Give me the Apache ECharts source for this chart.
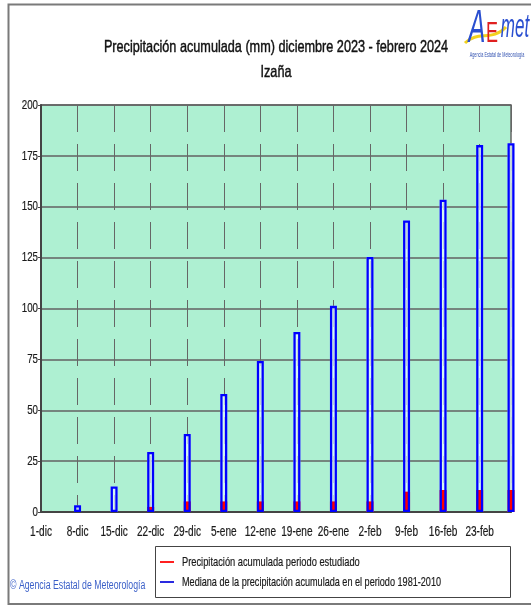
<!DOCTYPE html>
<html>
<head>
<meta charset="utf-8">
<script src="https://cdn.jsdelivr.net/npm/echarts@6/dist/echarts.min.js"></script>
<style>
html,body{margin:0;padding:0;background:#fff;}
#c{width:531px;height:606px;}
</style>
</head>
<body>
<div id="c"></div>
<script>
// ---- data ----
var startDate = '2023-12-01';
var tickLabels = ['1-dic','8-dic','15-dic','22-dic','29-dic','5-ene','12-ene','19-ene','26-ene','2-feb','9-feb','16-feb','23-feb'];
var barDates = ['2023-12-08','2023-12-15','2023-12-22','2023-12-29','2024-01-05','2024-01-12','2024-01-19','2024-01-26','2024-02-02','2024-02-09','2024-02-16','2024-02-23','2024-02-29'];
var medianValues = [3.3, 12.5, 29.5, 38.3, 58, 74.2, 88.5, 101.3, 125.3, 143.3, 153.5, 180.3, 181.2];
var observedValues = [0, 0, 2.5, 5.2, 5.2, 5.2, 5.2, 5.2, 5.2, 10, 10.8, 10.8, 10.8];
var yTicks = [0, 25, 50, 75, 100, 125, 150, 175, 200];
var titleLine1 = 'Precipitación acumulada (mm) diciembre 2023 - febrero 2024';
var titleLine2 = 'Izaña';
var nameObserved = 'Precipitación acumulada periodo estudiado';
var nameMedian = 'Mediana de la precipitación acumulada en el periodo 1981-2010';
var creditText = '© Agencia Estatal de Meteorología';

function dayOffset(d){ return (Date.parse(d) - Date.parse(startDate)) / 86400000; }
var xs = barDates.map(dayOffset);
var medData = xs.map(function(x,i){ return [x, medianValues[i]]; });
var obsData = xs.map(function(x,i){ return [x, observedValues[i]]; });

var FONT = "'Liberation Sans',Arial,sans-serif";
var NARROW = 0.72;
var chart = echarts.init(document.getElementById('c'));
chart.setOption({
  animation: false,
  backgroundColor: '#ffffff',
  grid: { left: 41, right: 20, top: 105, bottom: 94, show: true, backgroundColor: '#aef0d2', borderColor: '#666', borderWidth: 1.5 },
  xAxis: {
    type: 'value', min: 0, max: 90, interval: 7,
    axisLine: { show: true, lineStyle: { color: '#444', width: 2 } },
    axisTick: { show: false },
    axisLabel: { show: false },
    splitLine: { show: true, lineStyle: { color: '#666', width: 1, type: [27, 12] } }
  },
  yAxis: {
    type: 'value', min: yTicks[0], max: yTicks[yTicks.length-1], interval: 25,
    axisLine: { show: true, lineStyle: { color: '#444', width: 2 } },
    axisTick: { show: true, length: 3, lineStyle: { color: '#444' } },
    axisLabel: { show: false },
    splitLine: { show: true, lineStyle: { color: '#626262', width: 1.5 } }
  },
  series: [
    { type: 'bar', name: 'fill', data: medData, barWidth: 7, barGap: '-100%', clip: false, silent: true,
      itemStyle: { color: 'rgba(225,250,250,0.75)' } },
    { type: 'bar', name: nameObserved, data: obsData, barWidth: 7, barGap: '-100%', clip: false,
      itemStyle: { color: '#ff0000' } },
    { type: 'bar', name: nameMedian, data: medData, barWidth: 7, barGap: '-100%', clip: false,
      itemStyle: { color: 'rgba(0,0,0,0)', borderColor: '#0000ff', borderWidth: 2.3 } }
  ]
});

function ntext(x, y, text, size, align, color, opts){
  opts = opts || {};
  return {
    type: 'text', x: x, y: y, scaleX: opts.scale || NARROW, silent: true, z: 10,
    style: {
      text: text, x: 0, y: 0, align: align, verticalAlign: 'middle',
      font: (opts.style || '') + ' ' + (opts.weight || 'normal') + ' ' + size + 'px ' + (opts.family || FONT),
      fill: color, stroke: opts.stroke || null, lineWidth: opts.lineWidth || 0
    }
  };
}

var x0 = chart.convertToPixel({xAxisIndex: 0}, 0);
var yBase = chart.convertToPixel({yAxisIndex: 0}, 0);
var g = [];
// frame
g.push({ type: 'rect', shape: { x: 8.5, y: 4.5, width: 540, height: 599.5 }, style: { fill: 'none', stroke: '#7a7a7a', lineWidth: 2 }, silent: true, z: 0 });
// title
g.push(ntext(276, 47, titleLine1, 17, 'center', '#111', { stroke: '#111', lineWidth: 0.45, scale: 0.745 }));
g.push(ntext(276, 72.5, titleLine2, 17, 'center', '#111', { stroke: '#111', lineWidth: 0.45, scale: 0.745 }));
// x tick labels
tickLabels.forEach(function(t, i){
  g.push(ntext(chart.convertToPixel({xAxisIndex: 0}, i * 7), yBase + 20, t, 14, 'center', '#1a1a1a', { stroke: '#1a1a1a', lineWidth: 0.2 }));
});
// y tick labels
yTicks.forEach(function(v){
  g.push(ntext(x0 - 3, chart.convertToPixel({yAxisIndex: 0}, v), String(v), 13.5, 'right', '#1a1a1a', { stroke: '#1a1a1a', lineWidth: 0.2 }));
});
// legend box
g.push({ type: 'rect', shape: { x: 155.5, y: 546.5, width: 355, height: 51 }, style: { fill: '#fff', stroke: '#444', lineWidth: 1 }, silent: true, z: 5 });
g.push({ type: 'line', shape: { x1: 160, y1: 562, x2: 174, y2: 562 }, style: { stroke: '#ff2020', lineWidth: 2 }, silent: true, z: 10 });
g.push(ntext(182, 562, nameObserved, 13, 'left', '#1a1a1a', { scale: 0.715, stroke: '#1a1a1a', lineWidth: 0.2 }));
g.push({ type: 'line', shape: { x1: 160, y1: 582, x2: 174, y2: 582 }, style: { stroke: '#2a2ae0', lineWidth: 2 }, silent: true, z: 10 });
g.push(ntext(182, 582, nameMedian, 13, 'left', '#1a1a1a', { scale: 0.70, stroke: '#1a1a1a', lineWidth: 0.2 }));
// credit
g.push(ntext(10, 586, creditText, 12.5, 'left', '#3a5fc8', { scale: 0.70 }));
// logo
g.push({ type: 'bezierCurve', shape: { x1: 465, y1: 43, x2: 506, y2: 27, cpx1: 478, cpy1: 30, cpx2: 492, cpy2: 42 }, style: { stroke: '#f2d21e', lineWidth: 3, fill: 'none' }, silent: true, z: 9 });
g.push(ntext(477, 29, 'A', 46, 'center', '#2a4fd0', { scale: 0.55, style: 'italic' }));
g.push(ntext(492, 34, 'E', 30, 'center', '#e02020', { scale: 0.6 }));
g.push(ntext(515, 28, 'met', 34, 'center', '#2a4fd0', { scale: 0.5, style: 'italic' }));
g.push(ntext(497, 55, 'Agencia Estatal de Meteorología', 6.5, 'center', '#3050b0', { scale: 0.58 }));

chart.setOption({ graphic: { elements: g } });
</script>
</body>
</html>
